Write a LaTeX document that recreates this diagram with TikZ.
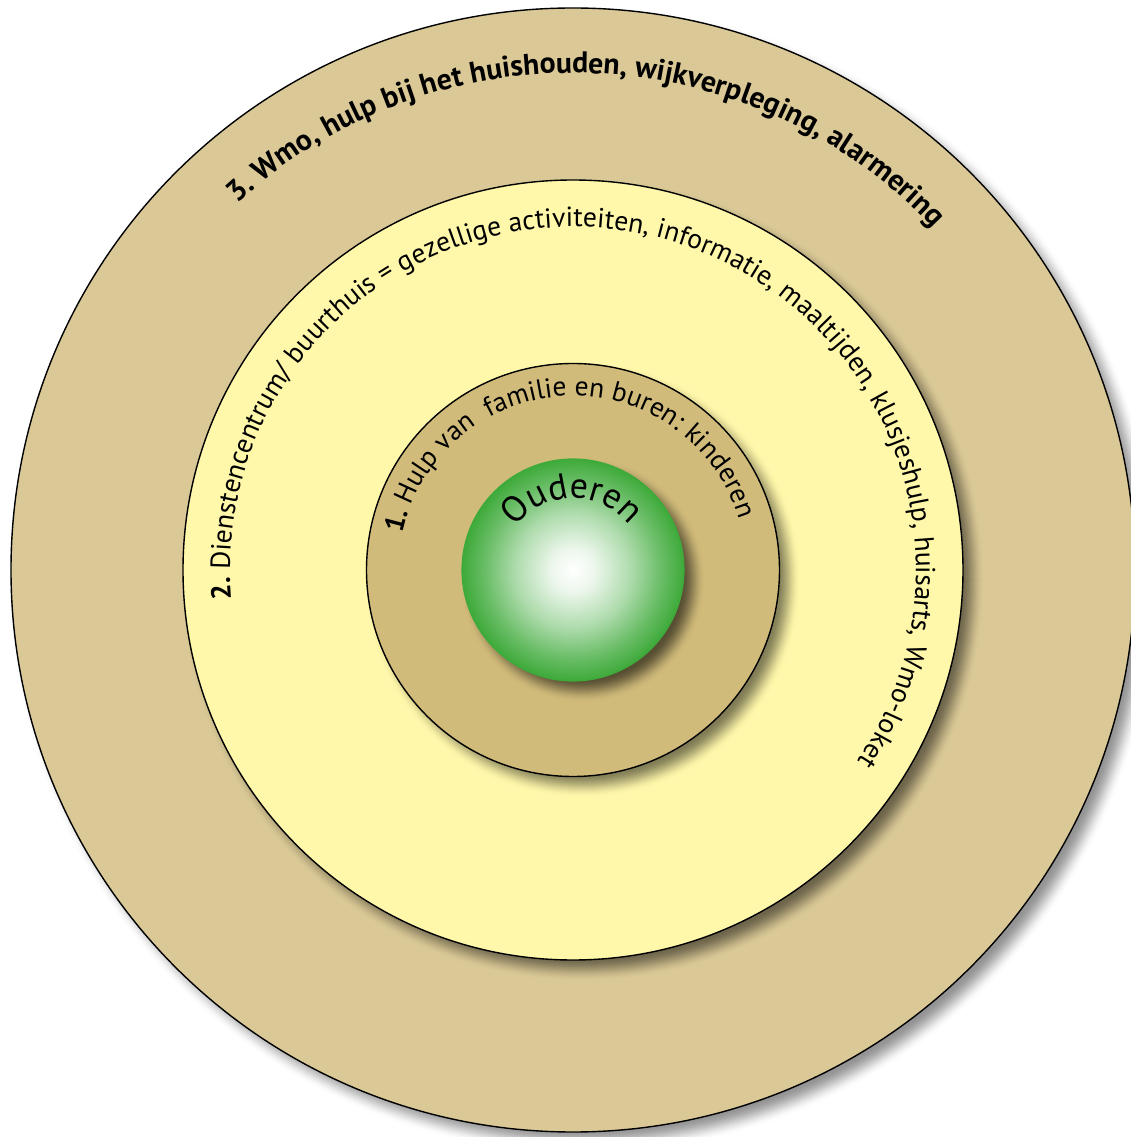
\documentclass[tikz,border=0pt]{standalone}
\usepackage{fontspec}
\setmainfont{PT Sans}
\usetikzlibrary{decorations.text}

\definecolor{wmotan}{RGB}{218,201,150}
\definecolor{centrumgeel}{RGB}{255,247,170}
\definecolor{familietan}{RGB}{208,187,122}
\definecolor{ballgreen}{RGB}{62,170,58}

% white core fading into green towards the rim
\pgfdeclareradialshading{ballglow}{\pgfpoint{0bp}{0bp}}{%
  color(0bp)=(white); color(5bp)=(ballgreen!10); color(13bp)=(ballgreen!42);
  color(20bp)=(ballgreen!78); color(25bp)=(ballgreen); color(50bp)=(ballgreen)}

\newcommand\wmofont{\fontsize{29.8}{32}\selectfont\bfseries}
\newcommand\ringfont{\fontsize{27.6}{30}\selectfont\mdseries}
\newcommand\ringbold{\fontsize{27.6}{30}\selectfont\bfseries}
\newcommand\famfont{\fontsize{27.5}{30}\selectfont\mdseries}
\newcommand\fambold{\fontsize{27.5}{30}\selectfont\bfseries}
\newcommand\ouderfont{\fontsize{36}{38}\selectfont}

% soft drop shadow: radius, ground colour, darkness in percent
\newcommand\ringshadow[3]{%
  \foreach \s in {24,23,...,0}{%
    \pgfmathsetmacro\t{\s/24}%
    \pgfmathsetmacro\mix{100-#3*(1-3*\t*\t+2*\t*\t*\t)}%
    \fill[#2!\mix!black] (10,-10) circle[radius=#1-12+\s];
  }%
}

\tikzset{
  ring/.style={circle, draw=black, line width=1.4pt, inner sep=0pt},
  ringtext/.style={decorate,
    decoration={text along path, text align=center, text={#1}}}
}

\begin{document}
\begin{tikzpicture}[x=1pt,y=1pt]
\useasboundingbox (-573,-567) rectangle (558,570);

% the rings, outside in, each with its shadow first
\ringshadow{562}{white}{42}
\node[ring, fill=wmotan, minimum size=1124pt] (wmo) at (0,0) {};
\ringshadow{390}{wmotan}{50}
\node[ring, fill=centrumgeel, minimum size=780pt] (centrum) at (0,0) {};
\ringshadow{206}{centrumgeel}{50}
\node[ring, fill=familietan, minimum size=413pt] (familie) at (0,0) {};
\ringshadow{111}{familietan}{58}
\node[circle, inner sep=0pt, minimum size=222pt, shading=ballglow,
  draw=ballgreen, line width=1.2pt] (ouderen) at (0,0) {};

% labels bent along the rings
\path[ringtext={|\wmofont|3. Wmo, hulp bij het huishouden, wijkverpleging, alarmering}]
  (178:497) arc[start angle=178, end angle=-2, radius=497];
\path[ringtext={|\ringbold|2. |\ringfont|Dienstencentrum/ buurthuis = gezellige activiteiten, informatie, maaltijden, klusjeshulp, huisarts, Wmo-loket}]
  (195.5:343) arc[start angle=195.5, end angle=-44.5, radius=343];
\path[ringtext={|\fambold|1. |\famfont|Hulp van \ familie en buren: kinderen}]
  (182.5:174) arc[start angle=182.5, end angle=2.5, radius=174];
\path[ringtext={|\ouderfont|Ouderen}]
  (181:72) arc[start angle=181, end angle=1, radius=72];
\end{tikzpicture}
\end{document}
